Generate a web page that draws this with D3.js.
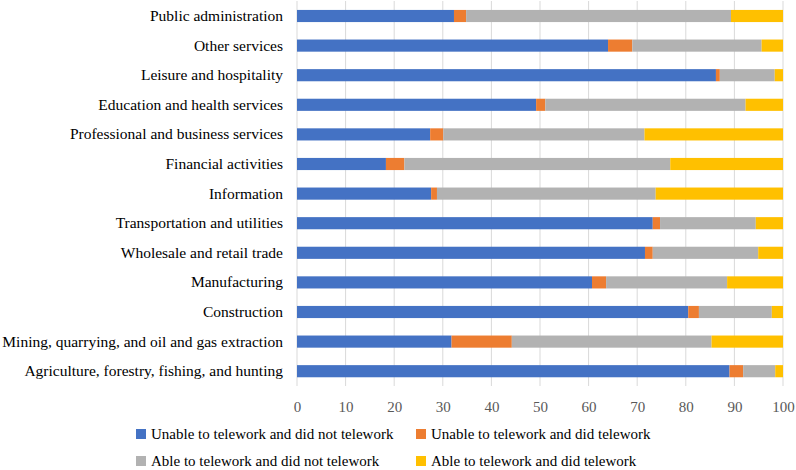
<!DOCTYPE html>
<html><head><meta charset="utf-8">
<script src="https://cdn.jsdelivr.net/npm/d3@7"></script>
<style>body{margin:0;background:#fff}</style>
</head><body>
<svg id="c" width="796" height="470"></svg>
<script>
const categories = [
  "Public administration",
  "Other services",
  "Leisure and hospitality",
  "Education and health services",
  "Professional and business services",
  "Financial activities",
  "Information",
  "Transportation and utilities",
  "Wholesale and retail trade",
  "Manufacturing",
  "Construction",
  "Mining, quarrying, and oil and gas extraction",
  "Agriculture, forestry, fishing, and hunting"
];
const seriesNames = [
  "Unable to telework and did not telework",
  "Unable to telework and did telework",
  "Able to telework and did not telework",
  "Able to telework and did telework"
];
const unableNot = [32.3, 64.0, 86.2, 49.2, 27.4, 18.3, 27.6, 73.2, 71.6, 60.7, 80.5, 31.8, 89.0];
const unableDid = [2.5, 5.0, 0.8, 1.9, 2.7, 3.8, 1.2, 1.5, 1.6, 2.9, 2.2, 12.4, 2.8];
const ableNot   = [54.5, 26.6, 11.3, 41.2, 41.4, 54.7, 45.0, 19.7, 21.7, 24.9, 15.0, 41.1, 6.6];
const ableDid   = [10.7, 4.4, 1.7, 7.7, 28.5, 23.2, 26.2, 5.6, 5.1, 11.5, 2.3, 14.7, 1.6];
const xTicks = [0,10,20,30,40,50,60,70,80,90,100];
const colors = ["#4472C4", "#ED7D31", "#B2B2B2", "#FFC000"];

const FONT = '"Liberation Serif"';
const svg = d3.select("#c");
const x = d3.scaleLinear().domain([0,100]).range([297, 783]);
const y = d3.scaleBand().domain(categories).range([1.2, 386]).paddingInner(0.59).paddingOuter(0.295);

const rows = categories.map((c,i)=>({cat:c, v:[unableNot[i],unableDid[i],ableNot[i],ableDid[i]]}));
const stacked = d3.stack().keys([0,1,2,3]).value((d,k)=>d.v[k])(rows);

// grid
svg.append("g").selectAll("line").data(xTicks.slice(1)).join("line")
  .attr("x1",d=>x(d)).attr("x2",d=>x(d)).attr("y1",1).attr("y2",386)
  .attr("stroke","#d9d9d9").attr("stroke-width",1);
svg.append("line").attr("x1",x(0)).attr("x2",x(0)).attr("y1",1).attr("y2",386)
  .attr("stroke","#d9d9d9").attr("stroke-width",1);

// bars
svg.append("g").selectAll("g").data(stacked).join("g")
  .attr("fill",(d,i)=>colors[i])
  .selectAll("rect").data(d=>d).join("rect")
  .attr("x",d=>x(d[0])).attr("width",d=>x(d[1])-x(d[0]))
  .attr("y",d=>y(d.data.cat)).attr("height",y.bandwidth());

// x axis labels
const xa = svg.append("g").attr("transform","translate(0,386)")
  .call(d3.axisBottom(x).tickValues(xTicks).tickSize(0).tickPadding(15).tickFormat(d3.format("d")));
xa.select(".domain").remove();
xa.attr("font-family",FONT);
xa.selectAll("text").attr("font-family",FONT).attr("font-size",15).attr("fill","#595959");

// y labels
const ya = svg.append("g").attr("transform","translate(283,0)")
  .call(d3.axisLeft(y).tickSize(0).tickPadding(0));
ya.select(".domain").remove();
ya.attr("font-family",FONT);
ya.selectAll("text").attr("font-family",FONT).attr("font-size",15.5).attr("fill","#000");

// legend
const legPos = [[136,434],[416,434],[136,461],[416,461]];
const lg = svg.append("g").selectAll("g").data(seriesNames).join("g")
  .attr("transform",(d,i)=>`translate(${legPos[i][0]},${legPos[i][1]})`);
lg.append("rect").attr("x",0).attr("y",-5).attr("width",10).attr("height",10).attr("fill",(d,i)=>colors[i]);
lg.append("text").attr("x",15).attr("y",0).attr("dy","0.35em")
  .attr("font-family",FONT).attr("font-size",15).attr("fill","#000").text(d=>d);
</script>
</body></html>
